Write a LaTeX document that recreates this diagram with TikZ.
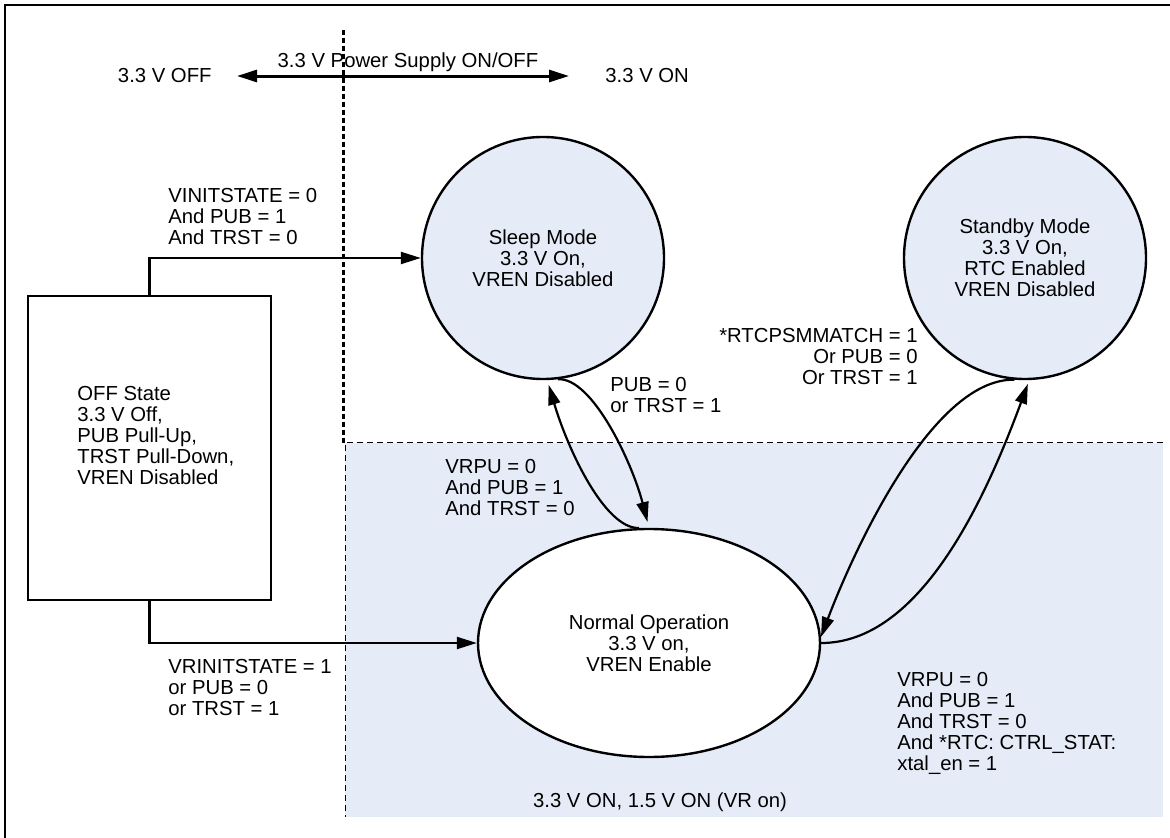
\documentclass[tikz,border=0pt]{standalone}
\usepackage{fontspec}
\setmainfont{Liberation Sans}
\usetikzlibrary{arrows.meta,shapes.geometric}
\definecolor{lb}{RGB}{230,236,247}
\newcommand{\dfont}{\fontsize{10.15pt}{10.5pt}\selectfont}
\begin{document}
\begin{tikzpicture}[x=0.5pt,y=-0.5pt, font=\dfont,
  lbl/.style={inner sep=0pt, align=left},
  state/.style={draw, line width=1.2pt, align=center, inner sep=0pt},
  conn/.style={line width=1.1pt, -{Triangle[length=10pt,width=6pt]}}]
\useasboundingbox (0,0) rectangle (1170,838);
% powered region
\fill[lb] (345,443) rectangle (1163,817);
\draw[line width=0.5pt, dash pattern=on 3pt off 2pt] (1163,443) -- (345,443) -- (345,817);
\draw[line width=1.5pt, dash pattern=on 2.5pt off 1.5pt] (343,30) -- (343,443);
% frame
\draw[line width=1.2pt] (5,838) -- (5,5) -- (1170,5);
% states
\node[state, rectangle, minimum width=121.5pt, minimum height=152pt] (offbox) at (149.5,448) {};
\node[lbl, anchor=west] (offtext) at (77,436) {OFF State\\3.3 V Off,\\PUB Pull-Up,\\TRST Pull-Down,\\VREN Disabled};
\node[state, circle, fill=lb, minimum size=121pt] (sleep) at (543,258) {Sleep Mode\\3.3 V On,\\VREN Disabled};
\node[state, circle, fill=lb, minimum size=121pt] (standby) at (1025,258) {Standby Mode\\3.3 V On,\\RTC Enabled\\VREN Disabled};
\node[state, ellipse, fill=white, minimum width=171pt, minimum height=114pt] (normal) at (649,643) {Normal Operation\\3.3 V on,\\VREN Enable};
% top power supply indicator
\node[lbl, anchor=base east] (voff) at (212,83) {3.3 V OFF};
\node[lbl, anchor=base west] (von) at (605,83) {3.3 V ON};
\node[lbl, anchor=base] (psu) at (408,68) {3.3 V Power Supply ON/OFF};
\draw[line width=1.5pt, {Triangle[length=10pt,width=6pt]}-{Triangle[length=10pt,width=6pt]}, shorten <=12.5pt, shorten >=18pt] (voff.east) -- (von.west);
% transition labels
\node[lbl, anchor=west] (l1) at (168,217) {VINITSTATE = 0\\And PUB = 1\\And TRST = 0};
\node[lbl, anchor=west] (l2) at (168,688) {VRINITSTATE = 1\\or PUB = 0\\or TRST = 1};
\node[lbl, anchor=west] (l3) at (610,395) {PUB = 0\\or TRST = 1};
\node[lbl, anchor=west] (l4) at (445,488) {VRPU = 0\\And PUB = 1\\And TRST = 0};
\node[lbl, anchor=east, align=right] (l5) at (918,357) {*RTCPSMMATCH = 1\\Or PUB = 0\\Or TRST = 1};
\node[lbl, anchor=west] (l6) at (897,723) {VRPU = 0\\And PUB = 1\\And TRST = 0\\And *RTC: CTRL\_STAT:\\xtal\_en = 1};
\node[lbl, anchor=base] (l7) at (660,807) {3.3 V ON, 1.5 V ON (VR on)};
% connectors
\draw[conn] (offbox.north) |- (sleep.west);
\draw[conn] (offbox.south) |- (normal.west);
\draw[conn, shorten >=2.5pt] (normal.95) .. controls (605,529) and (568,450) .. (sleep.272);
\draw[conn, shorten >=3pt] (sleep.277) .. controls (592,377) and (632,462) .. (normal.north);
\draw[conn] (standby.265) .. controls (930,378) and (850,560) .. (normal.2);
\draw[conn, shorten >=2pt] (normal.east) .. controls (920,643) and (985,500) .. (standby.272);
\end{tikzpicture}
\end{document}
